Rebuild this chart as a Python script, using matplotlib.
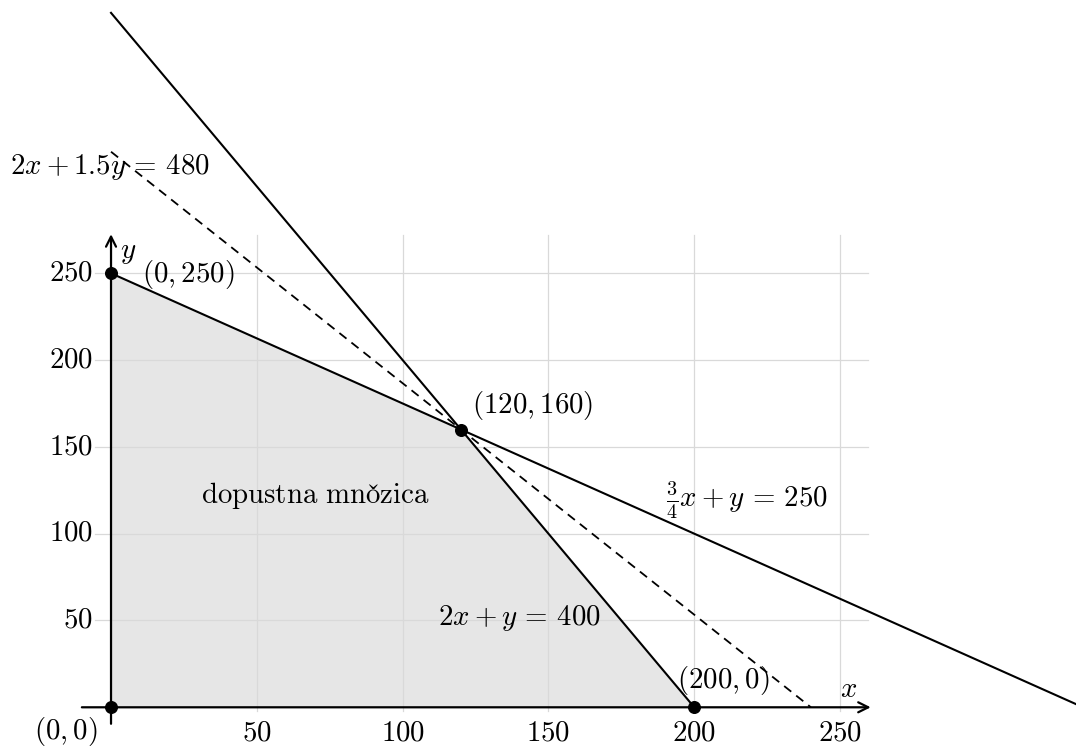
import matplotlib
matplotlib.use("Agg")
import matplotlib.pyplot as plt
import numpy as np

plt.rcParams['mathtext.fontset'] = 'cm'
plt.rcParams['font.family'] = ['cmr10', 'DejaVu Serif']

# ---- data ----
feasible_x = [0, 0, 120, 200]
feasible_y = [0, 250, 160, 0]
vertices = [(0, 0), (0, 250), (120, 160), (200, 0)]
vertex_labels = [r"$(0,0)$", r"$(0,250)$", r"$(120,160)$", r"$(200,0)$"]
ticks = [50, 100, 150, 200, 250]
# constraint lines: (x_start, x_end, a, b, c) for a*x + b*y = c
line1 = (0, 200, 2.0, 1.0, 400.0)        # 2x + y = 400
line2 = (0, 340, 0.75, 1.0, 250.0)       # 3/4 x + y = 250
line3 = (0, 240, 2.0, 1.5, 480.0)        # 2x + 1.5y = 480 (dashed)

fig = plt.figure(figsize=(10.76, 7.47), dpi=100)
ax = fig.add_axes([0, 0, 1, 1])
ax.set_xlim(-38.07, 330.9)
ax.set_ylim(-22.87, 407.4)
ax.axis('off')

FS = 20.8
gridc = '#d9d9d9'
# grid
for t in ticks:
    ax.plot([t, t], [-2.3, 272], color=gridc, lw=0.9, zorder=1)
    ax.plot([-5.5, 259.5], [t, t], color=gridc, lw=0.9, zorder=1)

# feasible region
ax.fill(feasible_x, feasible_y, color='#e6e6e6', zorder=0.5, lw=0)

def draw_line(spec, **kw):
    x0, x1, a, b, c = spec
    xs = np.array([x0, x1], dtype=float)
    ys = (c - a * xs) / b
    ax.plot(xs, ys, **kw)

draw_line(line1, color='black', lw=1.5, zorder=3)
draw_line(line2, color='black', lw=1.5, zorder=3)
draw_line(line3, color='black', lw=1.3, linestyle=(0, (5, 3.5)), zorder=3)

# axes with arrows
ax.annotate('', xy=(260.5, 0), xytext=(-10, 0),
            arrowprops=dict(arrowstyle='->', lw=1.6, color='black',
                            shrinkA=0, shrinkB=0, mutation_scale=18), zorder=4)
ax.annotate('', xy=(0, 272.5), xytext=(0, -9.5),
            arrowprops=dict(arrowstyle='->', lw=1.6, color='black',
                            shrinkA=0, shrinkB=0, mutation_scale=18), zorder=4)

# tick labels
for t in ticks:
    ax.text(t, -14.8, f"${t}$", ha='center', va='center', fontsize=FS)
    ax.text(-6.2, t, f"${t}$", ha='right', va='center', fontsize=FS)

ax.text(253, 10, r"$x$", ha='center', va='center', fontsize=FS)
ax.text(5.8, 262, r"$y$", ha='center', va='center', fontsize=FS)

# vertices
vx = [v[0] for v in vertices]
vy = [v[1] for v in vertices]
ax.scatter(vx, vy, s=70, color='black', zorder=5)
label_pos = [(-15.4, -13.8), (26.4, 249.2), (144.7, 174), (209.9, 15.7)]
for (lx, ly), lab in zip(label_pos, vertex_labels):
    ax.text(lx, ly, lab, ha='center', va='center', fontsize=FS, zorder=6)

ax.text(218.1, 119.4, r"$\frac{3}{4}x+y\,=\,250$", ha='center', va='center', fontsize=FS)
ax.text(139.9, 51.4, r"$2x+y\,=\,400$", ha='center', va='center', fontsize=FS)
ax.text(-0.3, 311, r"$2x+1.5y\,=\,480$", ha='center', va='center', fontsize=FS)
ax.text(70, 122, r"$\mathrm{dopustna\ mno\check{z}ica}$", ha='center', va='center', fontsize=FS)

fig.savefig("out.png", dpi=100)
